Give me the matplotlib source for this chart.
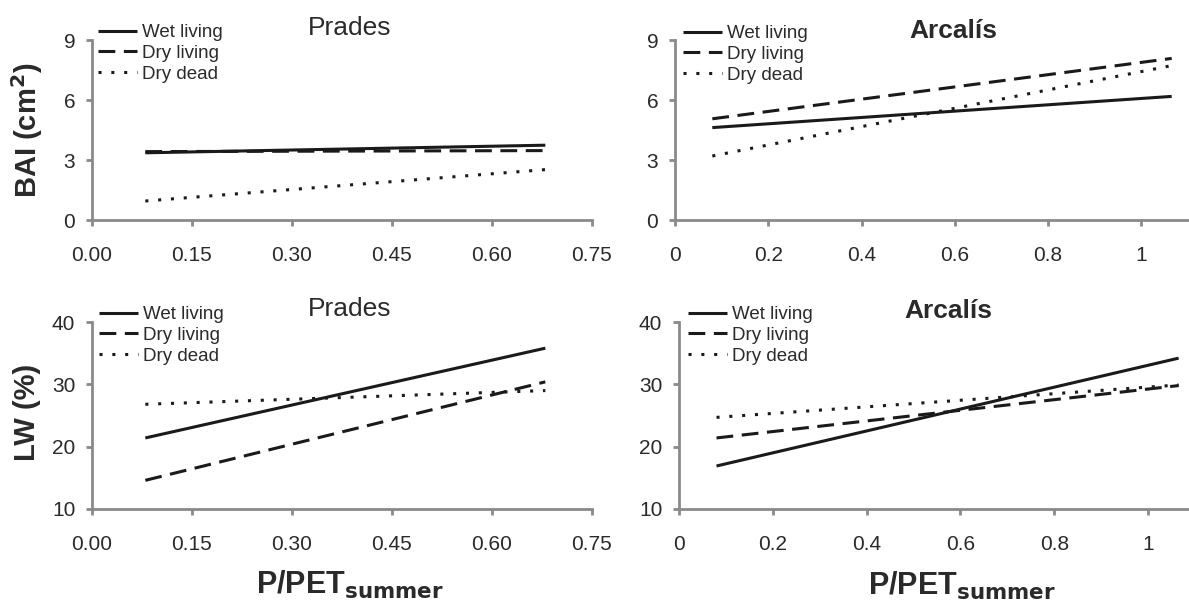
import matplotlib
matplotlib.use("Agg")
import matplotlib.pyplot as plt

plt.rcParams['font.family'] = ['Liberation Sans', 'DejaVu Sans']

series_names = ["Wet living", "Dry living", "Dry dead"]

# Prades: x range of fitted lines
prades_x = [0.08, 0.68]
prades_bai_wet = [3.36, 3.74]
prades_bai_dryliv = [3.42, 3.47]
prades_bai_drydead = [0.95, 2.52]
prades_lw_wet = [21.4, 35.8]
prades_lw_dryliv = [14.6, 30.4]
prades_lw_drydead = [26.8, 29.0]

# Arcalís
arcalis_x = [0.08, 1.065]
arcalis_bai_wet = [4.62, 6.18]
arcalis_bai_dryliv = [5.06, 8.08]
arcalis_bai_drydead = [3.2, 7.72]
arcalis_lw_wet = [16.9, 34.2]
arcalis_lw_dryliv = [21.4, 29.8]
arcalis_lw_drydead = [24.7, 29.9]

prades_xticks = [0.00, 0.15, 0.30, 0.45, 0.60, 0.75]
prades_xticklabels = ["0.00", "0.15", "0.30", "0.45", "0.60", "0.75"]
arcalis_xticks = [0, 0.2, 0.4, 0.6, 0.8, 1.0]
arcalis_xticklabels = ["0", "0.2", "0.4", "0.6", "0.8", "1"]
bai_yticks = [0, 3, 6, 9]
lw_yticks = [10, 20, 30, 40]

W, H = 1189, 608
fig = plt.figure(figsize=(W / 100, H / 100), dpi=100)
fig.patch.set_facecolor('white')

def fx(px):
    return px / W

def fy(py):
    return 1 - py / H

LINE = '#1a1a1a'
SPINE = '#8a8a8a'
TXT = '#2a2a2a'
styles = [dict(linestyle='-'), dict(linestyle=(0, (5.5, 2.8))), dict(linestyle=(0, (1.0, 3.2)))]

def make_ax(left, right, top, bottom, xlim, ylim):
    ax = fig.add_axes([fx(left), fy(bottom), fx(right - left), (bottom - top) / H])
    ax.set_xlim(*xlim)
    ax.set_ylim(*ylim)
    for s in ['top', 'right']:
        ax.spines[s].set_visible(False)
    for s in ['left', 'bottom']:
        ax.spines[s].set_color(SPINE)
        ax.spines[s].set_linewidth(2.0)
    ax.tick_params(axis='x', direction='out', length=4.5, width=2.0, color=SPINE,
                   labelsize=15, labelcolor=TXT, pad=14)
    ax.tick_params(axis='y', direction='out', length=4, width=2.0, color=SPINE,
                   labelsize=15, labelcolor=TXT, pad=8)
    ax.patch.set_alpha(0)
    return ax

def draw(ax, x, ys, legend_xy):
    hs = []
    for y, name, st in zip(ys, series_names, styles):
        h, = ax.plot(x, y, color=LINE, lw=2.2, label=name, solid_capstyle='butt',
                     dash_capstyle='butt', **st)
        hs.append(h)
    ax.legend(handles=hs, loc='upper left', bbox_to_anchor=(fx(legend_xy[0]), fy(legend_xy[1])),
              bbox_transform=fig.transFigure, frameon=False, fontsize=13.5,
              handlelength=2.1, handletextpad=0.25, labelspacing=0.2,
              borderpad=0, borderaxespad=0, labelcolor=TXT)

# Top-left: Prades BAI
ax1 = make_ax(92, 592, 40, 220, (0, 0.75), (0, 9))
draw(ax1, prades_x, [prades_bai_wet, prades_bai_dryliv, prades_bai_drydead], (98, 24))
ax1.set_xticks(prades_xticks)
ax1.set_xticklabels(prades_xticklabels)
ax1.set_yticks(bai_yticks)

# Top-right: Arcalís BAI
ax2 = make_ax(675, 1188, 40, 220, (0, 1.1), (0, 9))
draw(ax2, arcalis_x, [arcalis_bai_wet, arcalis_bai_dryliv, arcalis_bai_drydead], (683, 25))
ax2.set_xticks(arcalis_xticks)
ax2.set_xticklabels(arcalis_xticklabels)
ax2.set_yticks(bai_yticks)

# Bottom-left: Prades LW
ax3 = make_ax(92, 592, 322, 509, (0, 0.75), (10, 40))
draw(ax3, prades_x, [prades_lw_wet, prades_lw_dryliv, prades_lw_drydead], (99, 306))
ax3.set_xticks(prades_xticks)
ax3.set_xticklabels(prades_xticklabels)
ax3.set_yticks(lw_yticks)

# Bottom-right: Arcalís LW
ax4 = make_ax(679, 1188, 322, 509, (0, 1.085), (10, 40))
draw(ax4, arcalis_x, [arcalis_lw_wet, arcalis_lw_dryliv, arcalis_lw_drydead], (688, 306))
ax4.set_xticks(arcalis_xticks)
ax4.set_xticklabels(arcalis_xticklabels)
ax4.set_yticks(lw_yticks)

# Titles
fig.text(fx(350), fy(28), "Prades", fontsize=19, color=TXT, ha='center', va='center')
fig.text(fx(953), fy(31), "Arcalís", fontsize=19, color=TXT, ha='center', va='center', fontweight='bold')
fig.text(fx(350), fy(309), "Prades", fontsize=19, color=TXT, ha='center', va='center')
fig.text(fx(948), fy(311), "Arcalís", fontsize=19, color=TXT, ha='center', va='center', fontweight='bold')

# Axis labels
fig.text(fx(27), fy(130), r"BAI (cm$^\mathbf{2}$)", fontsize=21, fontweight='bold', color=TXT,
         rotation=90, ha='center', va='center')
fig.text(fx(27), fy(412), "LW (%)", fontsize=21, fontweight='bold', color=TXT,
         rotation=90, ha='center', va='center')
fig.text(fx(350), fy(594), r"P/PET$_{\mathbf{summer}}$", fontsize=22, fontweight='bold', color=TXT,
         ha='center', va='baseline')
fig.text(fx(962), fy(595), r"P/PET$_{\mathbf{summer}}$", fontsize=22, fontweight='bold', color=TXT,
         ha='center', va='baseline')

fig.savefig("out.png", dpi=100, facecolor='white')
